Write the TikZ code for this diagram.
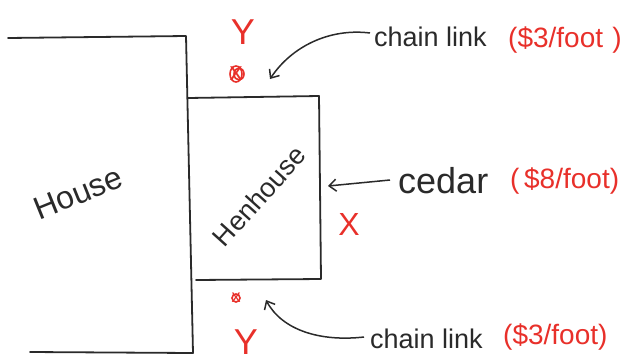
\documentclass[tikz,border=0pt]{standalone}
\usepackage{fontspec}
\setmainfont{Liberation Sans}
\usetikzlibrary{arrows.meta}
\definecolor{ink}{HTML}{2A2A2A}
\definecolor{pen}{HTML}{E8302A}
\tikzset{
  wall/.style={draw=ink, line width=1.8pt, line join=round, line cap=round},
  lbl/.style={text=ink, inner sep=0pt, font=\fontsize{27}{27}\selectfont},
  cost/.style={text=pen, inner sep=0pt, font=\fontsize{28}{28}\selectfont},
  redmark/.style={text=pen, inner sep=0pt, font=\fontsize{36}{36}\selectfont},
  scrib/.style={draw=pen, line width=1.6pt},
  ptr/.style={draw=ink, line width=1.5pt, -{Straight Barb[length=7pt,width=12pt,line width=1.5pt]}}
}
\begin{document}
\begin{tikzpicture}[x=1pt,y=-1pt]
\useasboundingbox (0,0) rectangle (639,362);
% house
\draw[wall] (8,38) -- (186,36) -- (193,353) -- (30,352);
% henhouse
\draw[wall] (188,98) -- (319,96) -- (321,279) -- (196,280);
\node[lbl, rotate=22, font=\fontsize{32}{32}\selectfont] (house) at (78,193) {House};
\node[lbl, rotate=48, font=\fontsize{27}{27}\selectfont] (hen) at (259,196) {Henhouse};
% top label
\node[lbl, anchor=west] (cl1) at (374,37) {chain link};
\node[cost, anchor=west] (c1) at (508,40) {(\$3/foot\,\,)};
\node[redmark] (y1) at (243,32) {Y};
\node[redmark, font=\fontsize{26}{26}\selectfont] (x1) at (236,74) {x};
\draw[scrib] (x1.center) ellipse (6pt and 8pt);
\draw[scrib] ([xshift=3pt]x1.center) ellipse (5pt and 6pt);
\coordinate (t1) at (270,79);
\draw[ptr] (cl1.west) ++(-4,-4) .. controls (330,28) and (292,46) .. (t1);
% cedar
\node[lbl, anchor=west, font=\fontsize{36}{36}\selectfont] (ced) at (398,181) {cedar};
\node[cost, anchor=west] (c2) at (510,181) {(\,\$8/foot)};
\coordinate (t2) at (328,186);
\draw[ptr] (ced.west) ++(-8,-1) -- (t2);
\node[redmark, font=\fontsize{32}{32}\selectfont] (x2) at (349,224) {X};
% bottom label
\node[lbl, anchor=west] (cl2) at (370,339) {chain link};
\node[cost, anchor=west] (c3) at (503,337) {(\$3/foot)};
\node[redmark, font=\fontsize{18}{18}\selectfont] (x3) at (236,298) {x};
\draw[scrib] (x3.center) ellipse (4pt and 4pt);
\node[redmark] (y2) at (246,342) {Y};
\coordinate (t3) at (266,300);
\draw[ptr] (cl2.west) ++(-6,-2) .. controls (320,342) and (282,330) .. (t3);
\end{tikzpicture}
\end{document}
